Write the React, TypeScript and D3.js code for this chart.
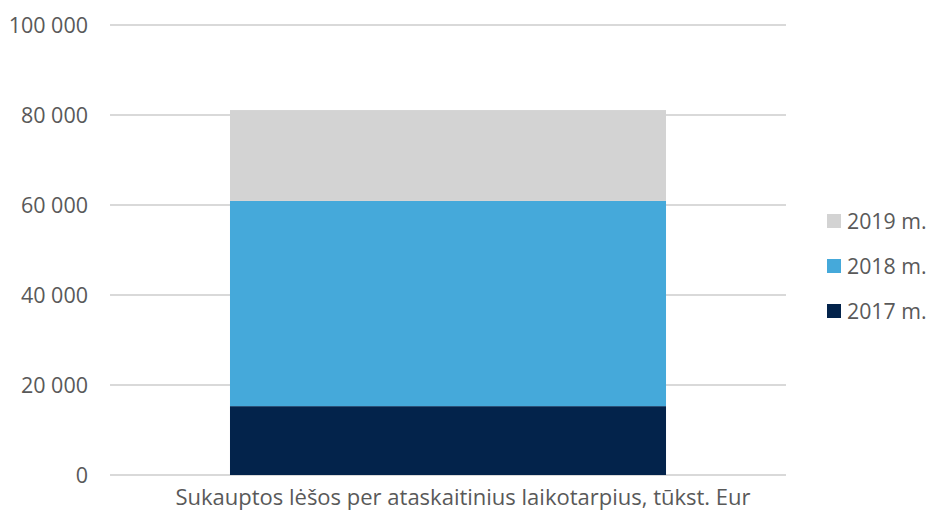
import * as d3 from 'd3'

const categories = ['Sukauptos lėšos per ataskaitinius laikotarpius, tūkst. Eur']
const seriesNames = ['2017 m.', '2018 m.', '2019 m.']
const values2017 = [15300]
const values2018 = [45600]
const values2019 = [20200]
const yTicks = [0, 20000, 40000, 60000, 80000, 100000]
const colors = ['#03234b', '#45a9da', '#d3d3d3']

const width = 926
const height = 515
const plot = { left: 110, right: 786, top: 25, bottom: 475 }
const font = '"Open Sans", sans-serif'
const textColor = '#595959'

const fmt = (v: number) => d3.format(',')(v).replace(/,/g, ' ')

const App = () => {
  const rows = categories.map((c, i) => ({
    cat: c,
    '2017 m.': values2017[i],
    '2018 m.': values2018[i],
    '2019 m.': values2019[i],
  }))
  const stacked = d3.stack<any>().keys(seriesNames)(rows)

  const x = d3.scaleBand()
    .domain(categories)
    .range([plot.left, plot.right])
    .paddingInner(0.355)
    .paddingOuter(0.1775)

  const y = d3.scaleLinear()
    .domain([0, 100000])
    .range([plot.bottom, plot.top])

  return (
    <svg width={width} height={height} style={{ position: 'absolute', left: 0, top: 0, background: '#fff' }}>
      {yTicks.map(t => (
        <g key={t}>
          <line x1={plot.left} x2={plot.right} y1={y(t)} y2={y(t)} stroke="#d9d9d9" strokeWidth={2} />
          <text x={88} y={y(t)} dy="0.36em" textAnchor="end" fontFamily={font} fontSize={21.5} fill={textColor}>
            {fmt(t)}
          </text>
        </g>
      ))}
      {stacked.map((s, i) => (
        <g key={s.key} fill={colors[i]}>
          {s.map((d, j) => (
            <rect
              key={j}
              x={x(categories[j])}
              width={x.bandwidth()}
              y={y(d[1])}
              height={y(d[0]) - y(d[1])}
            />
          ))}
        </g>
      ))}
      {categories.map(c => (
        <text key={c} x={width / 2} y={505} textAnchor="middle" fontFamily={font} fontSize={22} fill={textColor}>
          {c}
        </text>
      ))}
      {seriesNames.slice().reverse().map((name, i) => {
        const idx = seriesNames.indexOf(name)
        const cy = 221 + i * 45
        return (
          <g key={name}>
            <rect x={827} y={cy - 7} width={14} height={14} fill={colors[idx]} />
            <text x={847} y={cy} dy="0.36em" fontFamily={font} fontSize={21.3} fill={textColor}>
              {name}
            </text>
          </g>
        )
      })}
    </svg>
  )
}

export default App
